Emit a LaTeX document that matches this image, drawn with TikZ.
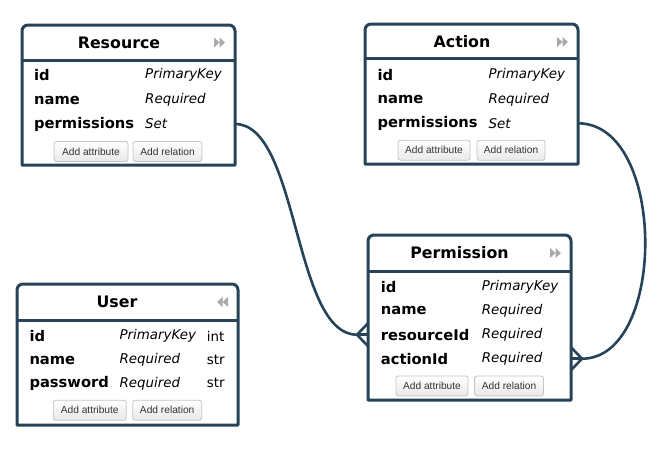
\documentclass[tikz,border=0pt]{standalone}
\usepackage{fontspec}
\setmainfont{DejaVu Sans}
\newfontfamily\btnfont{Liberation Sans}
\usetikzlibrary{calc}
\definecolor{bordc}{RGB}{38,67,88}
\definecolor{iconc}{RGB}{170,170,170}
\definecolor{btnb}{RGB}{196,196,196}
\definecolor{btnt}{RGB}{51,51,51}
\tikzset{
  tbl/.style={rectangle, inner sep=0pt, outer sep=0pt, fill=white},
  bord/.style={draw=bordc, line width=3pt, line join=round},
  conn/.style={draw=bordc, line width=2.6pt},
  ttl/.style={inner sep=0pt, font=\fontsize{15.8}{18}\selectfont\bfseries},
  attr/.style={anchor=west, inner sep=0pt, font=\fontsize{14.7}{17}\selectfont\bfseries},
  typ/.style={anchor=west, inner sep=0pt, font=\fontsize{13.4}{16}\selectfont\itshape},
  pln/.style={anchor=west, inner sep=0pt, font=\fontsize{13.4}{16}\selectfont},
  btn/.style={rectangle, rounded corners=2.5pt, draw=btnb, line width=0.8pt,
    top color=white, bottom color=black!9, text=btnt, inner sep=0pt,
    minimum height=20pt, font=\btnfont\fontsize{10.2}{12}\selectfont},
  icon/.style={fill=iconc},
}
\begin{document}
\begin{tikzpicture}[x=1pt,y=-1pt]
\useasboundingbox[fill=white] (0,0) rectangle (664,448);

% ---------- Resource ----------
\node[tbl, minimum width=213pt, minimum height=140pt] (resource) at (128.5,95) {};
\draw[bord] (resource.south west) [rounded corners=6pt] -- (resource.north west) -- (resource.north east) [sharp corners] -- (resource.south east) -- cycle;
\draw[bord] ([yshift=-35pt]resource.north west) -- ([yshift=-35pt]resource.north east);
\node[ttl] (res-title) at (119,43) {Resource};
\fill[icon] (214,37.5) -- (219.5,42.5) -- (214,47.5) -- cycle (219.5,37.5) -- (225,42.5) -- (219.5,47.5) -- cycle;
\node[attr] (res-id) at (34,75) {id};
\node[attr] (res-name) at (34,100) {name};
\node[attr] (res-perm) at (34,124) {permissions};
\node[typ] (res-id-t) at (145,75) {PrimaryKey};
\node[typ] (res-name-t) at (145,100) {Required};
\node[typ] (res-perm-t) at (145,124) {Set};
\node[btn, minimum width=74pt] (res-addattr) at (91,151.5) {Add attribute};
\node[btn, minimum width=69pt] (res-addrel) at (167.5,151.5) {Add relation};

% ---------- Action ----------
\node[tbl, minimum width=213pt, minimum height=140pt] (action) at (471.5,94) {};
\draw[bord] (action.south west) [rounded corners=6pt] -- (action.north west) -- (action.north east) [sharp corners] -- (action.south east) -- cycle;
\draw[bord] ([yshift=-34.5pt]action.north west) -- ([yshift=-34.5pt]action.north east);
\node[ttl] (act-title) at (462,42) {Action};
\fill[icon] (557,37) -- (562.5,42) -- (557,47) -- cycle (562.5,37) -- (568,42) -- (562.5,47) -- cycle;
\node[attr] (act-id) at (377.5,75) {id};
\node[attr] (act-name) at (377.5,99.3) {name};
\node[attr] (act-perm) at (377.5,123.3) {permissions};
\node[typ] (act-id-t) at (488.3,75) {PrimaryKey};
\node[typ] (act-name-t) at (488.3,99.3) {Required};
\node[typ] (act-perm-t) at (488.3,123.3) {Set};
\node[btn, minimum width=72pt] (act-addattr) at (434,150.3) {Add attribute};
\node[btn, minimum width=68pt] (act-addrel) at (511,150.3) {Add relation};

% ---------- Permission ----------
\node[tbl, minimum width=203pt, minimum height=165pt] (permission) at (469.5,317.5) {};
\draw[bord] (permission.south west) [rounded corners=6pt] -- (permission.north west) -- (permission.north east) [sharp corners] -- (permission.south east) -- cycle;
\draw[bord] ([yshift=-36pt]permission.north west) -- ([yshift=-36pt]permission.north east);
\node[ttl] (perm-title) at (459.5,253) {Permission};
\fill[icon] (550,248) -- (555.5,253) -- (550,258) -- cycle (555.5,248) -- (561,253) -- (555.5,258) -- cycle;
\node[attr] (perm-id) at (380.7,286.7) {id};
\node[attr] (perm-name) at (380.7,310.7) {name};
\node[attr] (perm-rid) at (380.7,334.7) {resourceId};
\node[attr] (perm-aid) at (380.7,358.7) {actionId};
\node[typ] (perm-id-t) at (481.7,286.7) {PrimaryKey};
\node[typ] (perm-name-t) at (481.7,310.7) {Required};
\node[typ] (perm-rid-t) at (481.7,334.7) {Required};
\node[typ] (perm-aid-t) at (481.7,358.7) {Required};
\node[btn, minimum width=72pt] (perm-addattr) at (432,386) {Add attribute};
\node[btn, minimum width=69pt] (perm-addrel) at (509,386) {Add relation};

% ---------- User ----------
\node[tbl, minimum width=221pt, minimum height=141pt] (user) at (127.5,354.5) {};
\draw[bord] (user.south west) [rounded corners=6pt] -- (user.north west) -- (user.north east) [sharp corners] -- (user.south east) -- cycle;
\draw[bord] ([yshift=-36pt]user.north west) -- ([yshift=-36pt]user.north east);
\node[ttl] (user-title) at (117,302) {User};
\fill[icon] (222.5,297) -- (217,302) -- (222.5,307) -- cycle (228,297) -- (222.5,302) -- (228,307) -- cycle;
\node[attr] (user-id) at (29.3,336) {id};
\node[attr] (user-name) at (29.3,360) {name};
\node[attr] (user-pw) at (29.3,383.3) {password};
\node[typ] (user-id-t) at (119.3,336) {PrimaryKey};
\node[typ] (user-name-t) at (119.3,360) {Required};
\node[typ] (user-pw-t) at (119.3,383.3) {Required};
\node[pln] (user-id-p) at (206.7,336) {int};
\node[pln] (user-name-p) at (206.7,360) {str};
\node[pln] (user-pw-p) at (206.7,383.3) {str};
\node[btn, minimum width=73pt] (user-addattr) at (89.7,410.3) {Add attribute};
\node[btn, minimum width=69pt] (user-addrel) at (167.2,410.3) {Add relation};

% ---------- connectors ----------
\coordinate (f1) at ($(permission.west |- perm-rid)+(-11,0)$);
\coordinate (f2) at ($(permission.east |- perm-aid)+(11,0)$);
\draw[conn] (resource.east |- res-perm) .. controls +(64,0) and +(-64,0) .. (f1);
\draw[conn] ($(permission.west |- perm-rid)+(0,-11.5)$) -- (f1) -- ($(permission.west |- perm-rid)+(0,11.5)$);
\draw[conn] (f1) -- (permission.west |- perm-rid);
\draw[conn] (action.east |- act-perm) .. controls +(89,0) and +(85,0) .. (f2);
\draw[conn] ($(permission.east |- perm-aid)+(0,-11.5)$) -- (f2) -- ($(permission.east |- perm-aid)+(0,11.5)$);
\draw[conn] (f2) -- (permission.east |- perm-aid);
\end{tikzpicture}
\end{document}
